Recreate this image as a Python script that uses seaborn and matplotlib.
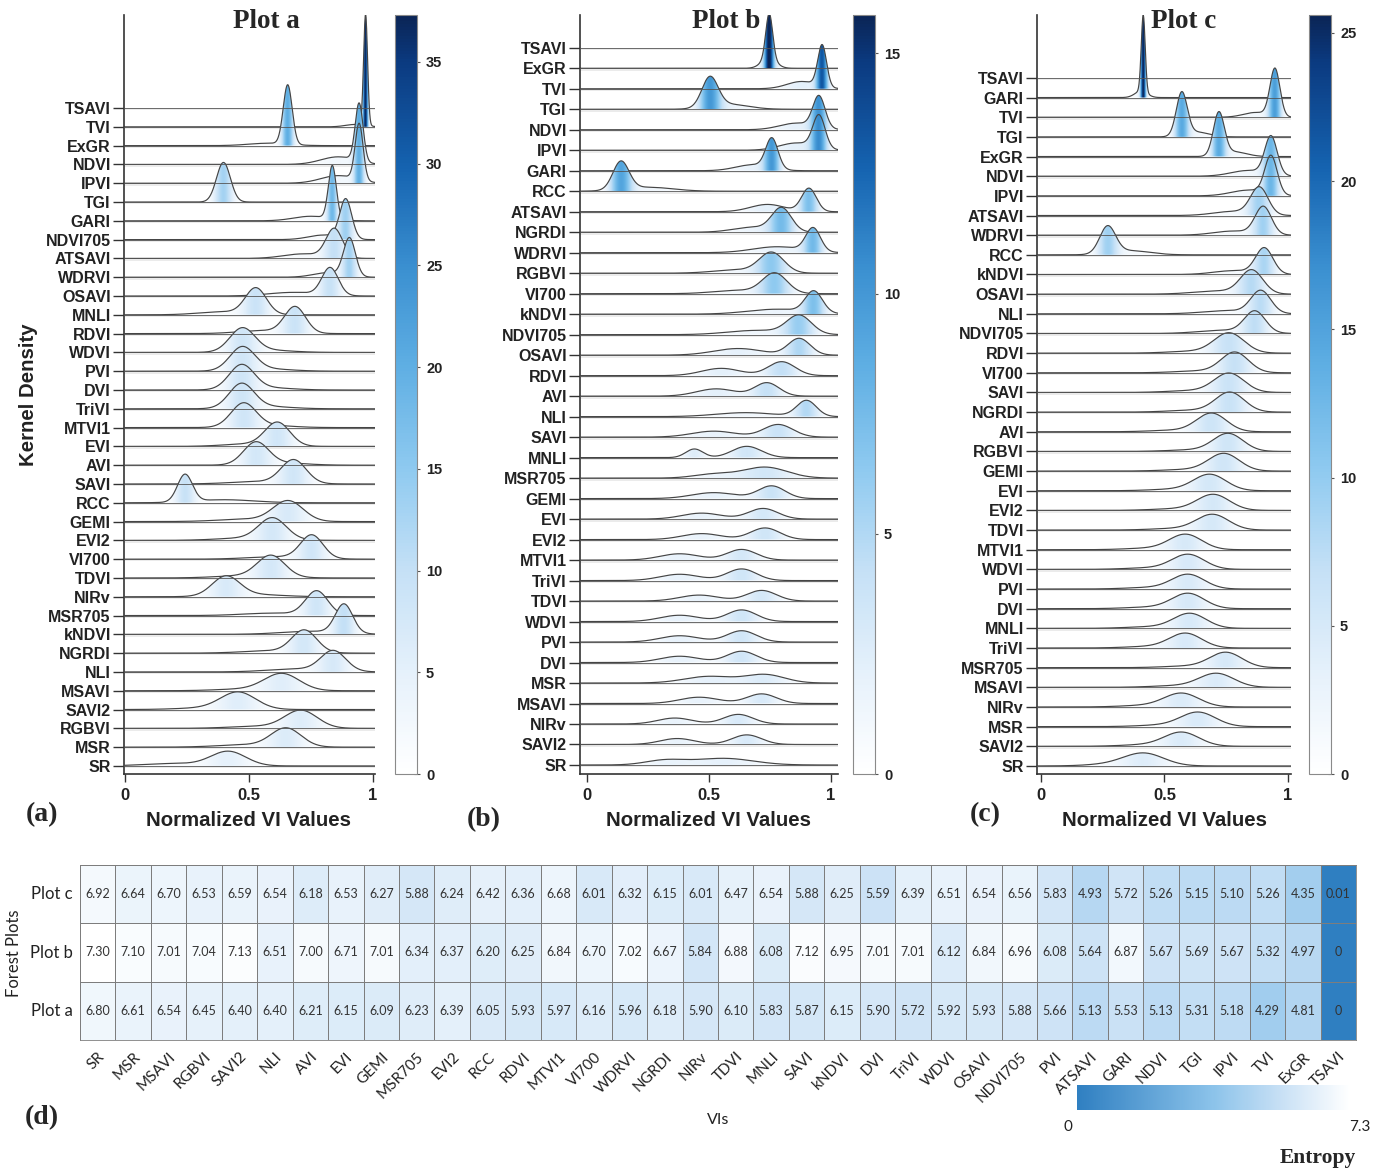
import numpy as np
import seaborn as sns
import matplotlib.pyplot as plt
from matplotlib.colors import LinearSegmentedColormap, Normalize
from matplotlib.cm import ScalarMappable
from matplotlib.patches import Polygon

sns.set_style('ticks')
plt.rcParams['font.family'] = ['Liberation Sans', 'DejaVu Sans']

# ---- ridge panels: labels top -> bottom ----
labels_a = ['TSAVI', 'TVI', 'ExGR', 'NDVI', 'IPVI', 'TGI', 'GARI', 'NDVI705', 'ATSAVI', 'WDRVI',
            'OSAVI', 'MNLI', 'RDVI', 'WDVI', 'PVI', 'DVI', 'TriVI', 'MTVI1', 'EVI', 'AVI', 'SAVI',
            'RCC', 'GEMI', 'EVI2', 'VI700', 'TDVI', 'NIRv', 'MSR705', 'kNDVI', 'NGRDI', 'NLI',
            'MSAVI', 'SAVI2', 'RGBVI', 'MSR', 'SR']
labels_b = ['TSAVI', 'ExGR', 'TVI', 'TGI', 'NDVI', 'IPVI', 'GARI', 'RCC', 'ATSAVI', 'NGRDI',
            'WDRVI', 'RGBVI', 'VI700', 'kNDVI', 'NDVI705', 'OSAVI', 'RDVI', 'AVI', 'NLI', 'SAVI',
            'MNLI', 'MSR705', 'GEMI', 'EVI', 'EVI2', 'MTVI1', 'TriVI', 'TDVI', 'WDVI', 'PVI', 'DVI',
            'MSR', 'MSAVI', 'NIRv', 'SAVI2', 'SR']
labels_c = ['TSAVI', 'GARI', 'TVI', 'TGI', 'ExGR', 'NDVI', 'IPVI', 'ATSAVI', 'WDRVI', 'RCC',
            'kNDVI', 'OSAVI', 'NLI', 'NDVI705', 'RDVI', 'VI700', 'SAVI', 'NGRDI', 'AVI', 'RGBVI',
            'GEMI', 'EVI', 'EVI2', 'TDVI', 'MTVI1', 'WDVI', 'PVI', 'DVI', 'MNLI', 'TriVI', 'MSR705',
            'MSAVI', 'NIRv', 'MSR', 'SAVI2', 'SR']

# density ridges, one per baseline from the 2nd row down
# (as in the original, each curve sits one row below its label).
# main peak: mode / peak density / spread ; tail: mode / density / spread
loc_a = [0.970, 0.656, 0.944, 0.944, 0.397, 0.836, 0.890, 0.844, 0.905, 0.827, 0.528, 0.686,
         0.473, 0.473, 0.470, 0.470, 0.478, 0.615, 0.528, 0.680, 0.242, 0.658, 0.595, 0.753,
         0.589, 0.407, 0.773, 0.883, 0.723, 0.840, 0.633, 0.457, 0.710, 0.650, 0.417]
h_a = [36.5, 19.5, 19.0, 18.5, 13.0, 17.5, 13.0, 9.5, 12.5, 9.0, 8.5, 8.5, 7.6, 7.6, 7.9, 7.9,
       7.6, 7.6, 7.2, 7.6, 9.0, 6.6, 6.9, 7.6, 6.9, 6.3, 7.9, 9.5, 7.2, 6.6, 5.4, 5.4, 5.7, 6.0, 4.7]
sd_a = [0.008, 0.018, 0.016, 0.016, 0.028, 0.016, 0.024, 0.033, 0.024, 0.033, 0.042, 0.042,
        0.05, 0.05, 0.05, 0.05, 0.05, 0.05, 0.05, 0.05, 0.03, 0.06, 0.055, 0.045, 0.055, 0.055,
        0.045, 0.035, 0.05, 0.05, 0.07, 0.07, 0.065, 0.06, 0.07]
tloc_a = [0.93, 0.58, 0.86, 0.86, 0.44, 0.75, 0.80, 0.72, 0.82, 0.68, 0.40, 0.56, 0.56, 0.56,
          0.56, 0.56, 0.56, 0.50, 0.62, 0.55, 0.40, 0.50, 0.50, 0.62, 0.50, 0.50, 0.60, 0.75,
          0.60, 0.70, 0.50, 0.35, 0.55, 0.50, 0.20]
th_a = [0.8, 0.8, 2.5, 2.5, 0.0, 1.5, 1.5, 1.5, 1.5, 1.2, 1.0, 1.0, 0.8, 0.8, 0.8, 0.8, 0.8,
        0.8, 0.8, 0.8, 1.0, 0.8, 0.8, 0.8, 0.8, 0.8, 0.8, 1.0, 0.8, 1.0, 0.6, 0.6, 0.7, 0.8, 0.8]
tsd_a = [0.04, 0.08, 0.07, 0.07, 0.05, 0.07, 0.06, 0.08, 0.06, 0.10, 0.10, 0.10, 0.10, 0.10,
         0.10, 0.10, 0.10, 0.10, 0.10, 0.12, 0.12, 0.12, 0.12, 0.12, 0.12, 0.12, 0.12, 0.12,
         0.12, 0.12, 0.12, 0.12, 0.12, 0.12, 0.12]

loc_b = [0.747, 0.964, 0.504, 0.951, 0.951, 0.758, 0.139, 0.910, 0.798, 0.927, 0.757, 0.770,
         0.930, 0.870, 0.870, 0.798, 0.738, 0.900, 0.784, 0.655, 0.730, 0.757, 0.722, 0.730,
         0.634, 0.634, 0.716, 0.634, 0.634, 0.634, 0.730, 0.716, 0.620, 0.655, 0.560]
h_b = [13.5, 12.5, 9.0, 9.5, 9.8, 9.0, 8.5, 7.0, 7.0, 7.0, 6.0, 6.0, 6.4, 5.5, 5.0, 4.2, 4.0,
       4.8, 3.8, 3.4, 3.3, 3.8, 3.2, 3.5, 3.2, 3.5, 3.2, 3.5, 3.4, 3.4, 2.5, 2.9, 2.9, 2.9, 2.0]
sd_b = [0.014, 0.018, 0.033, 0.025, 0.025, 0.025, 0.033, 0.03, 0.04, 0.03, 0.05, 0.05, 0.035,
        0.05, 0.045, 0.055, 0.05, 0.04, 0.06, 0.06, 0.09, 0.055, 0.06, 0.06, 0.06, 0.06, 0.06,
        0.06, 0.06, 0.06, 0.08, 0.06, 0.06, 0.06, 0.12]
tloc_b = [0.745, 0.88, 0.58, 0.86, 0.86, 0.68, 0.25, 0.74, 0.68, 0.78, 0.62, 0.62, 0.78, 0.70,
          0.62, 0.55, 0.53, 0.65, 0.52, 0.44, 0.52, 0.52, 0.47, 0.47, 0.38, 0.38, 0.46, 0.38,
          0.38, 0.38, 0.50, 0.46, 0.36, 0.37, 0.32]
th_b = [3.0, 2.2, 1.5, 2.0, 2.2, 1.8, 1.2, 2.2, 1.5, 1.8, 1.0, 1.0, 1.5, 1.3, 2.0, 2.2, 2.2,
        1.2, 1.8, 2.6, 1.2, 1.8, 1.8, 1.8, 1.9, 1.9, 1.8, 1.9, 1.9, 1.9, 2.0, 1.9, 1.8, 1.8, 1.4]
tsd_b = [0.03, 0.06, 0.08, 0.07, 0.07, 0.07, 0.10, 0.07, 0.08, 0.10, 0.10, 0.10, 0.12, 0.12,
         0.10, 0.08, 0.08, 0.12, 0.09, 0.035, 0.08, 0.09, 0.08, 0.08, 0.08, 0.08, 0.08, 0.08,
         0.08, 0.08, 0.10, 0.08, 0.07, 0.07, 0.08]

loc_c = [0.414, 0.947, 0.570, 0.720, 0.931, 0.931, 0.884, 0.900, 0.270, 0.904, 0.853, 0.890,
         0.866, 0.762, 0.785, 0.762, 0.765, 0.691, 0.758, 0.741, 0.684, 0.698, 0.695, 0.586,
         0.596, 0.596, 0.596, 0.603, 0.586, 0.749, 0.711, 0.570, 0.637, 0.570, 0.418]
h_c = [24.0, 15.0, 13.5, 13.4, 12.0, 12.0, 8.5, 8.7, 8.5, 8.1, 7.3, 7.0, 6.7, 6.2, 6.3, 5.9,
       6.1, 5.7, 5.5, 5.4, 5.0, 4.9, 4.8, 4.7, 4.6, 4.5, 4.7, 4.6, 4.5, 4.7, 4.3, 4.2, 4.4, 4.3, 3.8]
sd_c = [0.008, 0.02, 0.022, 0.022, 0.025, 0.025, 0.035, 0.033, 0.032, 0.035, 0.045, 0.04,
        0.042, 0.06, 0.055, 0.06, 0.058, 0.06, 0.06, 0.062, 0.065, 0.065, 0.065, 0.065, 0.065,
        0.065, 0.065, 0.065, 0.065, 0.065, 0.07, 0.07, 0.07, 0.07, 0.08]
tloc_c = [0.405, 0.87, 0.63, 0.78, 0.84, 0.84, 0.78, 0.78, 0.36, 0.78, 0.72, 0.76, 0.74, 0.62,
          0.65, 0.62, 0.62, 0.55, 0.62, 0.60, 0.55, 0.55, 0.55, 0.45, 0.45, 0.45, 0.45, 0.45,
          0.45, 0.60, 0.55, 0.43, 0.50, 0.43, 0.30]
th_c = [2.0, 1.5, 1.5, 1.5, 1.8, 1.8, 1.3, 1.3, 1.3, 1.2, 1.0, 1.0, 1.0, 0.6, 0.6, 0.6, 0.6,
        0.5, 0.5, 0.5, 0.5, 0.5, 0.5, 0.5, 0.5, 0.5, 0.5, 0.5, 0.5, 0.5, 0.5, 0.5, 0.5, 0.5, 0.6]
tsd_c = [0.025, 0.05, 0.05, 0.05, 0.07, 0.07, 0.08, 0.08, 0.08, 0.08] + [0.10] * 25

cbar_max = [37.3, 15.8, 25.6]
cbar_ticks = [[0, 5, 10, 15, 20, 25, 30, 35], [0, 5, 10, 15], [0, 5, 10, 15, 20, 25]]

# ---- entropy heatmap ----
vis = ['SR', 'MSR', 'MSAVI', 'RGBVI', 'SAVI2', 'NLI', 'AVI', 'EVI', 'GEMI', 'MSR705', 'EVI2',
       'RCC', 'RDVI', 'MTVI1', 'VI700', 'WDRVI', 'NGRDI', 'NIRv', 'TDVI', 'MNLI', 'SAVI',
       'kNDVI', 'DVI', 'TriVI', 'WDVI', 'OSAVI', 'NDVI705', 'PVI', 'ATSAVI', 'GARI', 'NDVI',
       'TGI', 'IPVI', 'TVI', 'ExGR', 'TSAVI']
ent_c = [6.92, 6.64, 6.70, 6.53, 6.59, 6.54, 6.18, 6.53, 6.27, 5.88, 6.24, 6.42, 6.36, 6.68,
         6.01, 6.32, 6.15, 6.01, 6.47, 6.54, 5.88, 6.25, 5.59, 6.39, 6.51, 6.54, 6.56, 5.83,
         4.93, 5.72, 5.26, 5.15, 5.10, 5.26, 4.35, 0.01]
ent_b = [7.30, 7.10, 7.01, 7.04, 7.13, 6.51, 7.00, 6.71, 7.01, 6.34, 6.37, 6.20, 6.25, 6.84,
         6.70, 7.02, 6.67, 5.84, 6.88, 6.08, 7.12, 6.95, 7.01, 7.01, 6.12, 6.84, 6.96, 6.08,
         5.64, 6.87, 5.67, 5.69, 5.67, 5.32, 4.97, 0]
ent_a = [6.80, 6.61, 6.54, 6.45, 6.40, 6.40, 6.21, 6.15, 6.09, 6.23, 6.39, 6.05, 5.93, 5.97,
         6.16, 5.96, 6.18, 5.90, 6.10, 5.83, 5.87, 6.15, 5.90, 5.72, 5.92, 5.93, 5.88, 5.66,
         5.13, 5.53, 5.13, 5.31, 5.18, 4.29, 4.81, 0]
plot_names = ['Plot c', 'Plot b', 'Plot a']

ridge_cmap = LinearSegmentedColormap.from_list('ridge', [
    (0.0, '#ffffff'), (0.13, '#e6f1fb'), (0.27, '#c4e0f6'), (0.40, '#8fcaf0'),
    (0.54, '#5eaee3'), (0.67, '#3a8fd0'), (0.80, '#1563b0'), (0.94, '#0b3a80'), (1.0, '#0b2556')])
ent_cmap = LinearSegmentedColormap.from_list('ent', [
    (0.0, '#2f7fc1'), (0.5, '#8cc3ea'), (0.75, '#c8e0f5'), (1.0, '#ffffff')])

W, H = 1384, 1172
fig = plt.figure(figsize=(W / 100, H / 100), dpi=100)


def box(x0, y0, x1, y1):
    return [x0 / W, 1 - y1 / H, (x1 - x0) / W, (y1 - y0) / H]


SCALE = 0.162  # rows per density unit
LINE = '#454545'


def ridges(ax, labels, loc, h, sd, tloc, th, tsd, vmax, xlim, ylim):
    n = len(labels)
    norm = Normalize(0, vmax)
    xs = np.linspace(xlim[0], xlim[1], 900)
    for r in range(n):
        ax.plot(xlim, [r - 0.07, r - 0.07], color='#e8e8e8', lw=1.2, zorder=1)
    for j in range(len(loc)):
        base = n - 2 - j
        dens = (h[j] * np.exp(-0.5 * ((xs - loc[j]) / sd[j]) ** 2)
                + th[j] * np.exp(-0.5 * ((xs - tloc[j]) / tsd[j]) ** 2))
        ys = base + dens * SCALE
        verts = np.vstack([np.column_stack([xs, ys]), [[xs[-1], base], [xs[0], base]]])
        patch = Polygon(verts, closed=True, facecolor='none', edgecolor='none',
                        transform=ax.transData)
        ax.add_patch(patch)
        img = ax.imshow(dens[None, :], extent=(xs[0], xs[-1], base, ys.max()),
                        origin='lower', aspect='auto', cmap=ridge_cmap, norm=norm,
                        interpolation='bilinear', zorder=2 + j)
        img.set_clip_path(patch)
        ax.plot(xs, ys, color=LINE, lw=0.85, zorder=2.5 + j)
    for r in range(n):
        ax.plot(xlim, [r, r], color='#555555', lw=0.6, zorder=60)
    ax.set_xlim(xlim)
    ax.set_ylim(ylim)
    ax.set_yticks(range(n))
    ax.set_yticklabels(labels[::-1], fontsize=11.5, fontweight='bold', color='#222')
    ax.set_xticks([0, 0.5, 1])
    ax.set_xticklabels(['0', '0.5', '1'], fontsize=12, fontweight='bold', color='#222')
    ax.tick_params(axis='y', length=8, width=1, color='#333', pad=1.5)
    ax.tick_params(axis='x', length=6, width=1, color='#333', pad=4)
    sns.despine(ax=ax)
    for s in ['left', 'bottom']:
        ax.spines[s].set_color('#333')
        ax.spines[s].set_linewidth(1.2)


panels = [
    (labels_a, loc_a, h_a, sd_a, tloc_a, th_a, tsd_a, (-0.004, 1.008), (-0.43, 39.95), 124, 375, 395),
    (labels_b, loc_b, h_b, sd_b, tloc_b, th_b, tsd_b, (-0.029, 1.029), (-0.44, 36.6), 580, 838, 853),
    (labels_c, loc_c, h_c, sd_c, tloc_c, th_c, tsd_c, (-0.016, 1.012), (-0.41, 38.2), 1037, 1291, 1309),
]
titles = ['Plot a', 'Plot b', 'Plot c']
title_x = [266, 726, 1184]
tag_pos = [(42, 815, '(a)'), (484, 820, '(b)'), (985, 815, '(c)')]
xlab_x = [249, 709, 1165]

for k, (lab, lo, hh, ss, tl, tt, ts, xl, yl, x0, x1, cx) in enumerate(panels):
    ax = fig.add_axes(box(x0, 15, x1, 774))
    ridges(ax, lab, lo, hh, ss, tl, tt, ts, cbar_max[k], xl, yl)
    cax = fig.add_axes(box(cx, 15, cx + 22, 774))
    cb = fig.colorbar(ScalarMappable(Normalize(0, cbar_max[k]), ridge_cmap), cax=cax)
    cb.set_ticks(cbar_ticks[k])
    cb.outline.set_edgecolor('#8a8a8a')
    cb.outline.set_linewidth(0.8)
    cax.tick_params(labelsize=10.5, length=5, width=0.8, color='#555', direction='inout', pad=4)
    for t in cax.get_yticklabels():
        t.set_fontweight('bold')
        t.set_color('#222')
    fig.text(title_x[k] / W, 1 - 21 / H, titles[k], ha='center', va='center',
             family='Liberation Serif', fontsize=19.5, fontweight='bold')
    fig.text(tag_pos[k][0] / W, 1 - tag_pos[k][1] / H, tag_pos[k][2], ha='center', va='center',
             family='Liberation Serif', fontsize=20, fontweight='bold')
    fig.text(xlab_x[k] / W, 1 - 820 / H, 'Normalized VI Values', ha='center', va='center',
             fontsize=14.7, fontweight='bold', color='#222')

fig.text(28 / W, 1 - 395 / H, 'Kernel Density', rotation=90, ha='center', va='center',
         fontsize=14.7, fontweight='bold', color='#222')

# ---- heatmap ----
axh = fig.add_axes(box(80, 865, 1356, 1040))
ent = np.array([ent_c, ent_b, ent_a], dtype=float)
annot = np.array([['0' if v == 0 else f'{v:.2f}' for v in row] for row in ent])
sns.heatmap(ent, ax=axh, cmap=ent_cmap, vmin=0, vmax=7.3, annot=annot, fmt='', cbar=False,
            linewidths=0.6, linecolor='#7d7d7d',
            annot_kws={'fontsize': 9, 'color': '#333333', 'family': 'Lato'})
axh.set_xticks(np.arange(len(vis)) + 0.5)
axh.set_xticklabels(vis, rotation=45, ha='right', rotation_mode='anchor',
                    fontsize=11, family='Lato', color='#222')
axh.set_yticks(np.arange(3) + 0.5)
axh.set_yticklabels(plot_names, rotation=0, fontsize=12, family='Lato', color='#222')
axh.tick_params(length=0, pad=7)
axh.tick_params(axis='y', pad=5)
for s in axh.spines.values():
    s.set_visible(True)
    s.set_color('#7d7d7d')
    s.set_linewidth(0.6)

fig.text(14 / W, 1 - 953 / H, 'Forest Plots', rotation=90, ha='center', va='center',
         fontsize=12, family='Lato', color='#222')
fig.text(718 / W, 1 - 1120 / H, 'VIs', ha='center', va='center', fontsize=11.5,
         family='Lato', color='#222')
fig.text(42 / W, 1 - 1118 / H, '(d)', ha='center', va='center',
         family='Liberation Serif', fontsize=20, fontweight='bold')

cax2 = fig.add_axes(box(1077, 1085, 1350, 1110))
cb2 = fig.colorbar(ScalarMappable(Normalize(0, 7.3), ent_cmap), cax=cax2, orientation='horizontal')
cb2.set_ticks([])
cb2.outline.set_visible(False)
fig.text(1068 / W, 1 - 1127 / H, '0', ha='center', va='center', fontsize=11, family='Lato', color='#222')
fig.text(1360 / W, 1 - 1127 / H, '7.3', ha='center', va='center', fontsize=11, family='Lato', color='#222')
fig.text(1318 / W, 1 - 1158 / H, 'Entropy', ha='center', va='center',
         family='Liberation Serif', fontsize=15.5, fontweight='bold')

fig.savefig('out.png', dpi=100)
